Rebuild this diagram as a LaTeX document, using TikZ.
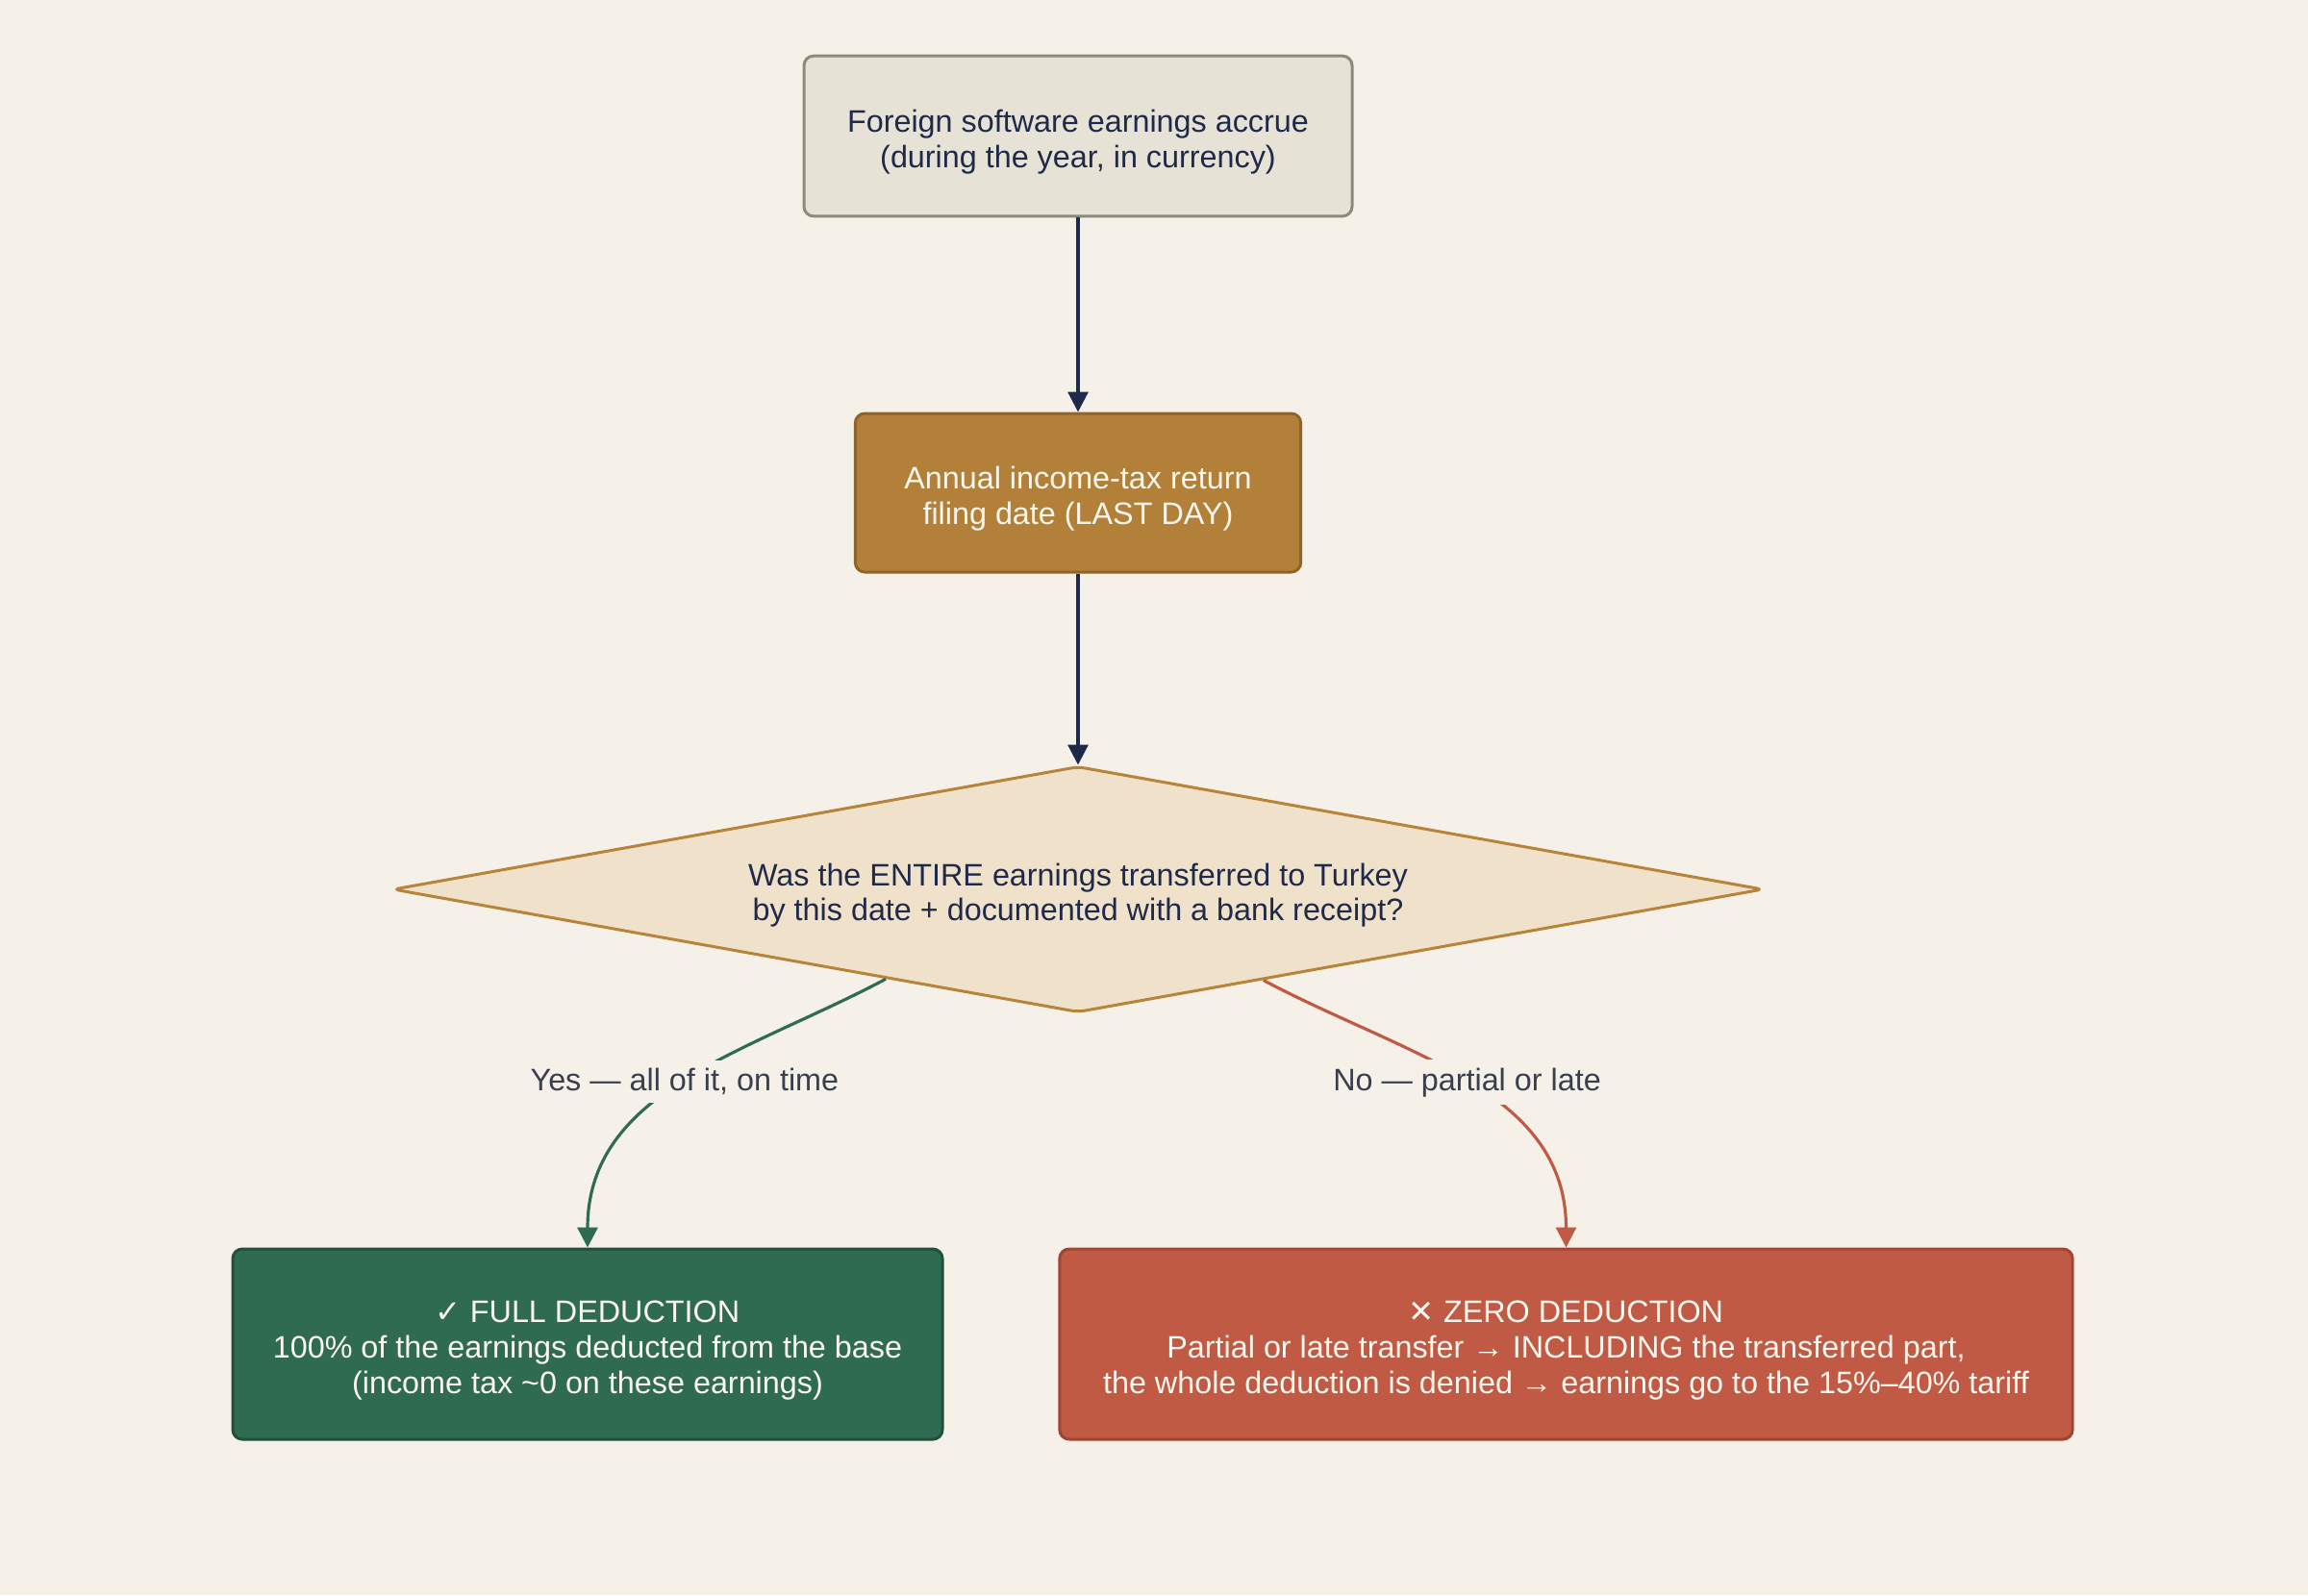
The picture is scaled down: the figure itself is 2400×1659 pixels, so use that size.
\documentclass[tikz,border=0pt]{standalone}
\usepackage{fontspec}
\setmainfont{Liberation Sans}
\newfontfamily\symfont{DejaVu Sans}
\usetikzlibrary{shapes.geometric,arrows.meta,calc}
\definecolor{bg}{HTML}{F5F0E8}
\definecolor{navy}{HTML}{1F2A4A}
\definecolor{topfill}{HTML}{E6E2D6}
\definecolor{topdraw}{HTML}{8E8A7A}
\definecolor{goldfill}{HTML}{B38039}
\definecolor{golddraw}{HTML}{8F6428}
\definecolor{diafill}{HTML}{F0E2CA}
\definecolor{diadraw}{HTML}{B8843A}
\definecolor{greenfill}{HTML}{2E6B50}
\definecolor{greendraw}{HTML}{22503A}
\definecolor{redfill}{HTML}{C05A44}
\definecolor{reddraw}{HTML}{A04434}
\definecolor{labeltext}{HTML}{3A3F4E}
\definecolor{lighttext}{HTML}{FBF6EE}
\newcommand\tdown{\rule{0pt}{10.6pt}}
\tikzset{
  base/.style={rectangle, rounded corners=3pt, line width=0.9pt, align=center,
    font=\fontsize{9.7}{11}\selectfont, inner sep=0pt},
  topbox/.style={base, fill=topfill, draw=topdraw, text=navy},
  goldbox/.style={base, fill=goldfill, draw=golddraw, text=lighttext},
  greenbox/.style={base, fill=greenfill, draw=greendraw, text=lighttext},
  redbox/.style={base, fill=redfill, draw=reddraw, text=lighttext},
  decision/.style={diamond, aspect=5.5, fill=diafill, draw=diadraw, line width=0.9pt,
    rounded corners=2pt, align=center, font=\fontsize{9.7}{11}\selectfont, text=navy, inner sep=0pt},
  flow/.style={line width=0.95pt, -{Triangle[width=6.3pt,length=6.3pt]}},
  lbl/.style={fill=bg, font=\fontsize{9.7}{11}\selectfont, text=labeltext, inner sep=2.5pt}
}
\begin{document}
\begin{tikzpicture}[x=0.3pt,y=-0.3pt]
\fill[bg] (0,0) rectangle (2400,1659);
\useasboundingbox (0,0) rectangle (2400,1659);

\node[topbox, minimum width=171pt, minimum height=50pt] (accrue) at (1121,141.5)
  {\tdown Foreign software earnings accrue\\(during the year, in currency)};
\node[goldbox, minimum width=139pt, minimum height=49.5pt] (filing) at (1121,512.5)
  {\tdown Annual income-tax return\\filing date (LAST DAY)};
\node[decision, minimum width=427.5pt, minimum height=76.8pt] (question) at (1121,925)
  {\tdown Was the ENTIRE earnings transferred to Turkey\\by this date + documented with a bank receipt?};
\node[greenbox, minimum width=221.4pt, minimum height=59.4pt] (full) at (611,1398)
  {\tdown{\symfont ✓} FULL DEDUCTION\\100\% of the earnings deducted from the base\\(income tax \textasciitilde0 on these earnings)};
\node[redbox, minimum width=316pt, minimum height=59.4pt] (zero) at (1628.5,1398)
  {\tdown{\symfont ✕} ZERO DEDUCTION\\Partial or late transfer → INCLUDING the transferred part,\\the whole deduction is denied → earnings go to the 15\%–40\% tariff};

\draw[flow, navy] (accrue) -- (filing);
\draw[flow, navy] (filing) -- (question.north);

\coordinate (yesstart) at ($(question.south)!0.28!(question.west)$);
\coordinate (nostart) at ($(question.south)!0.27!(question.east)$);
\draw[flow, greenfill] (yesstart) to[out=-152, in=90]
  node[lbl, pos=0.5] (yeslabel) {Yes — all of it, on time} (full.north);
\draw[flow, redfill] (nostart) to[out=-28, in=90]
  node[lbl, pos=0.5] (nolabel) {No — partial or late} (zero.north);
\end{tikzpicture}
\end{document}
